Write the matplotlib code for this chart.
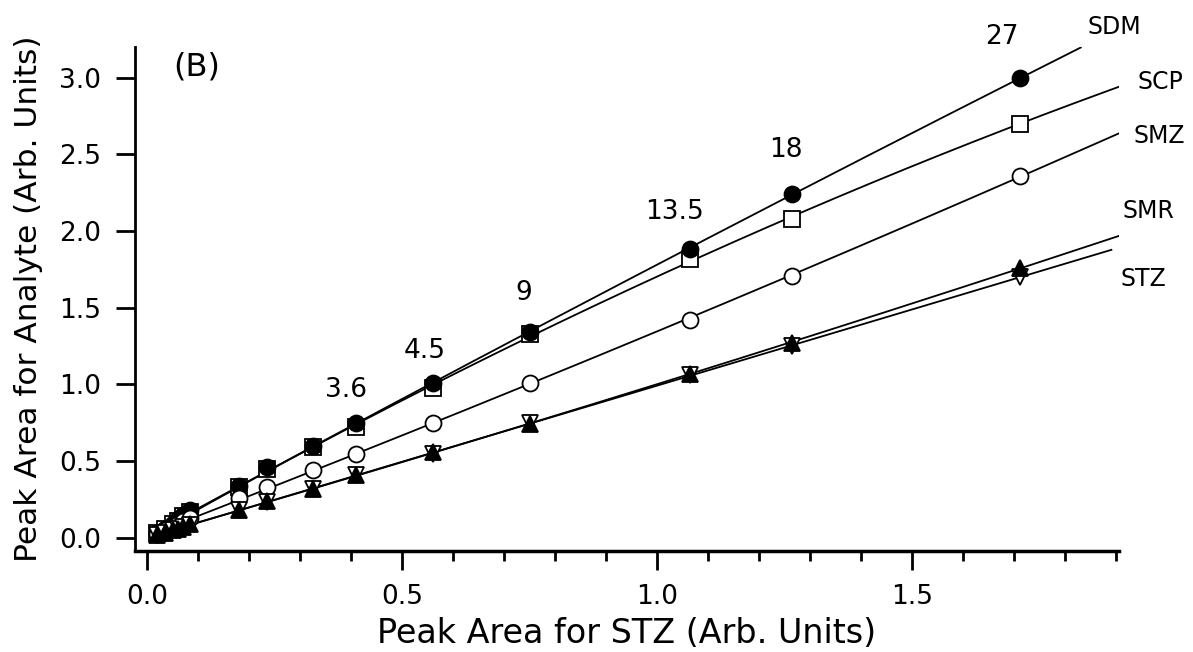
import numpy as np
import matplotlib
matplotlib.use("Agg")
import matplotlib.pyplot as plt
from matplotlib.ticker import MultipleLocator

plt.rcParams['font.family'] = ['DejaVu Sans']

# datos
x = [0.02, 0.035, 0.05, 0.06, 0.07, 0.085, 0.18, 0.235, 0.325, 0.41, 0.56, 0.75, 1.065, 1.265, 1.71]
sdm = [0.03, 0.06, 0.09, 0.12, 0.15, 0.18, 0.34, 0.46, 0.60, 0.75, 1.01, 1.34, 1.88, 2.24, 3.00]
scp = [0.03, 0.06, 0.09, 0.11, 0.14, 0.17, 0.33, 0.45, 0.59, 0.72, 0.98, 1.33, 1.82, 2.08, 2.70]
smz = [0.025, 0.05, 0.07, 0.09, 0.11, 0.13, 0.26, 0.33, 0.44, 0.55, 0.75, 1.01, 1.42, 1.71, 2.36]
smr = [0.02, 0.035, 0.05, 0.06, 0.07, 0.09, 0.18, 0.24, 0.32, 0.41, 0.56, 0.74, 1.07, 1.27, 1.76]
stz = [0.02, 0.035, 0.05, 0.06, 0.07, 0.085, 0.18, 0.235, 0.32, 0.41, 0.55, 0.75, 1.06, 1.25, 1.70]

# orden de dibujo: los rellenos encima de los abiertos
nombres = ["SCP", "SDM", "SMZ", "STZ", "SMR"]
series = [scp, sdm, smz, stz, smr]
marcadores = ["s", "o", "o", "v", "^"]
relleno = ["white", "black", "white", "white", "black"]
x_fin = [1.915, 1.83, 1.91, 1.89, 1.91]
etiqueta_pos = [(1.941, 2.97), (1.843, 3.33), (1.933, 2.62), (1.908, 1.69), (1.912, 2.13)]

conc = ["3.6", "4.5", "9", "13.5", "18", "27"]
conc_x = [0.39, 0.545, 0.739, 1.033, 1.253, 1.676]
conc_y = [0.963, 1.217, 1.594, 2.127, 2.531, 3.266]

fig = plt.figure(figsize=(11.93, 6.52), dpi=100)
ax = fig.add_axes([0.113, 0.155, 0.825, 0.773])

for nom, y, m, fc, xf, pos in zip(nombres, series, marcadores, relleno, x_fin, etiqueta_pos):
    c = np.polyfit(x, y, 2)
    xx = np.linspace(0.01, xf, 200)
    ax.plot(xx, np.polyval(c, xx), color="black", lw=1.3, zorder=2)
    ax.plot(x, y, linestyle="none", marker=m, ms=11.5, mfc=fc, mec="black", mew=1.3, zorder=3)
    ax.text(pos[0], pos[1], nom, fontsize=17, ha="left", va="center", clip_on=False)

for t, cx, cy in zip(conc, conc_x, conc_y):
    ax.text(cx, cy, t, fontsize=19, ha="center", va="center")

ax.text(0.098, 3.07, "(B)", fontsize=23, ha="center", va="center")

ax.set_xlim(-0.024, 1.905)
ax.set_ylim(-0.085, 3.2)
ax.xaxis.set_minor_locator(MultipleLocator(0.1))
ax.set_xticks(np.arange(0, 1.6, 0.5))
ax.set_xticklabels(["0.0", "0.5", "1.0", "1.5"])
ax.set_yticks(np.arange(0, 3.1, 0.5))
ax.set_yticklabels(["0.0", "0.5", "1.0", "1.5", "2.0", "2.5", "3.0"])
ax.tick_params(axis="both", which="major", direction="out", length=14, width=2, labelsize=19, pad=10)
ax.tick_params(axis="x", which="minor", direction="out", length=7, width=2)
ax.tick_params(axis="y", which="minor", length=0)
ax.spines["top"].set_visible(False)
ax.spines["right"].set_visible(False)
ax.spines["left"].set_linewidth(2)
ax.spines["bottom"].set_linewidth(2.5)
ax.set_xlabel("Peak Area for STZ (Arb. Units)", fontsize=24, labelpad=5)
ax.set_ylabel("Peak Area for Analyte (Arb. Units)", fontsize=22.5, labelpad=12)

fig.savefig("out.png", dpi=100)
